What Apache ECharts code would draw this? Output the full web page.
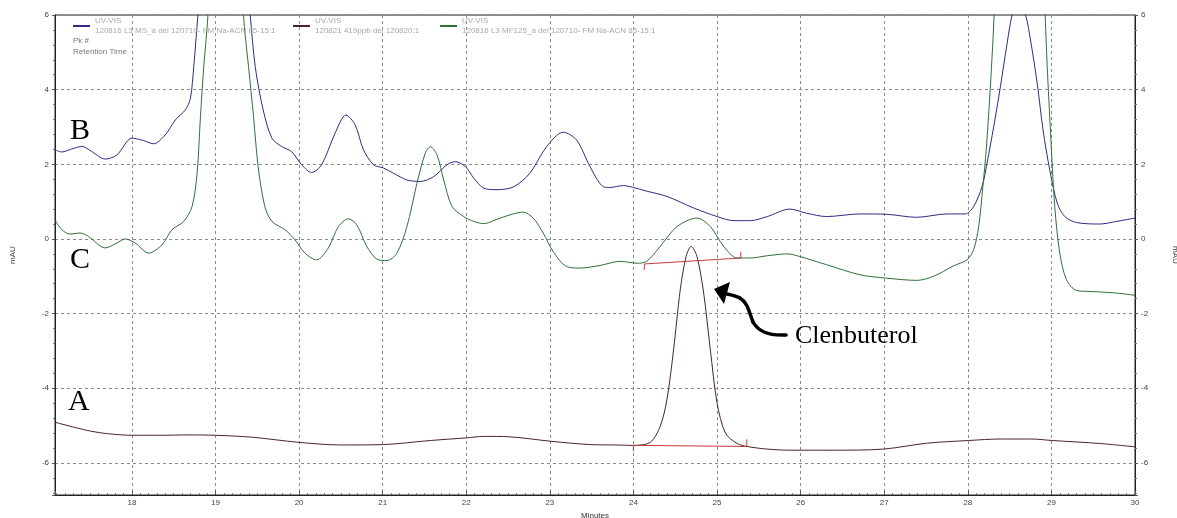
<!DOCTYPE html>
<html>
<head>
<meta charset="utf-8">
<script src="https://cdn.jsdelivr.net/npm/echarts@6/dist/echarts.min.js"></script>
<style>
html,body{margin:0;padding:0;background:#fff;}
#chart{width:1177px;height:518px;}
</style>
</head>
<body>
<div id="chart"></div>
<script>
// ---- Data (minutes, mAU) ----
const nameB = '120816 L3 MS_a del 120710- FM Na-ACN 85-15:1';
const nameA = '120821 419ppb del 120820:1';
const nameC = '120816 L3 MF125_a del 120710- FM Na-ACN 85-15:1';
const detector = 'UV-VIS';

const timeB = [17.08,17.16,17.28,17.40,17.52,17.68,17.82,18.00,18.12,18.26,18.40,18.52,18.64,18.70,18.74,18.79,
  18.88,18.98,19.10,19.22,19.33,19.415,19.475,19.57,19.675,19.79,19.91,20.03,20.15,20.27,20.43,20.56,20.67,
  20.77,20.89,21.01,21.13,21.29,21.45,21.61,21.77,21.87,21.99,22.09,22.21,22.37,22.57,22.76,22.96,23.16,23.32,
  23.48,23.64,23.72,23.88,24.00,24.16,24.40,24.72,25.00,25.20,25.40,25.60,25.87,26.07,26.31,26.71,27.03,27.39,
  27.75,27.97,28.07,28.17,28.23,28.31,28.39,28.47,28.53,28.60,28.69,28.75,28.83,28.90,28.98,29.07,29.16,29.30,
  29.58,29.78,30.00];
const valB = [2.39,2.33,2.41,2.48,2.34,2.14,2.25,2.70,2.65,2.55,2.79,3.19,3.46,3.77,4.62,6.00,
  8.2,11.0,12.3,11.0,8.0,6.00,4.62,3.46,2.70,2.48,2.34,1.99,1.78,1.99,2.83,3.32,3.06,
  2.39,1.99,1.90,1.76,1.58,1.54,1.67,1.99,2.07,1.94,1.63,1.36,1.32,1.40,1.76,2.47,2.86,2.65,
  1.94,1.40,1.38,1.43,1.38,1.28,1.14,0.83,0.60,0.49,0.49,0.60,0.80,0.69,0.60,0.67,0.66,0.58,
  0.67,0.67,0.87,1.40,2.03,3.01,4.08,5.24,6.00,6.35,6.00,5.33,4.17,2.92,1.85,0.96,0.60,0.44,
  0.40,0.47,0.56];

const timeC = [17.08,17.16,17.26,17.38,17.48,17.68,17.82,17.92,18.04,18.20,18.36,18.48,18.62,18.72,18.78,18.82,
  18.86,18.91,18.98,19.05,19.13,19.21,19.28,19.335,19.395,19.455,19.51,19.59,19.675,19.83,19.95,20.07,20.21,
  20.35,20.47,20.59,20.69,20.81,20.93,21.05,21.17,21.29,21.41,21.51,21.57,21.65,21.73,21.83,21.97,22.09,22.21,
  22.37,22.53,22.68,22.80,22.92,23.04,23.20,23.36,23.60,23.84,24.04,24.16,24.32,24.52,24.76,24.92,25.08,25.24,
  25.40,25.60,25.84,25.99,26.31,26.71,27.03,27.39,27.59,27.83,27.99,28.07,28.13,28.18,28.22,28.26,28.29,28.315,
  28.40,28.50,28.62,28.74,28.84,28.925,28.95,28.99,29.04,29.10,29.18,29.30,29.50,29.78,30.00];
const valC = [0.51,0.25,0.13,0.16,0.07,-0.24,-0.11,0.00,-0.11,-0.38,-0.16,0.25,0.47,0.87,1.76,3.28,
  4.62,6.00,9.5,12.5,13.5,12.5,9.5,6.00,4.62,3.28,1.94,0.87,0.47,0.25,-0.02,-0.38,-0.56,
  -0.24,0.33,0.54,0.38,-0.20,-0.54,-0.58,-0.38,0.33,1.49,2.30,2.47,2.25,1.58,0.87,0.60,0.47,0.41,
  0.53,0.65,0.72,0.56,0.16,-0.34,-0.74,-0.78,-0.71,-0.60,-0.65,-0.60,-0.20,0.33,0.56,0.33,-0.20,-0.51,
  -0.51,-0.45,-0.40,-0.47,-0.69,-0.96,-1.05,-1.11,-1.00,-0.72,-0.56,-0.29,0.33,1.40,2.39,3.72,4.88,6.00,
  10.5,13.5,14.5,13.5,10.5,6.00,4.62,2.83,0.87,-0.38,-1.09,-1.38,-1.41,-1.45,-1.51];

const timeA = [17.08,17.30,17.51,17.72,18.00,18.36,18.66,19.00,19.43,20.00,20.50,21.00,21.57,22.00,22.21,22.51,
  23.01,23.49,23.78,24.00,24.20,24.32,24.40,24.48,24.56,24.63,24.69,24.76,24.84,24.92,25.00,25.10,25.24,25.36,
  25.60,25.87,26.39,26.99,27.52,28.01,28.39,28.76,29.01,29.58,30.00];
const valA = [-4.91,-5.04,-5.15,-5.22,-5.26,-5.26,-5.25,-5.26,-5.31,-5.45,-5.52,-5.51,-5.40,-5.33,-5.29,-5.30,
  -5.42,-5.51,-5.52,-5.53,-5.45,-5.02,-4.31,-2.97,-1.36,-0.47,-0.20,-0.47,-1.45,-2.97,-4.39,-5.20,-5.48,-5.56,
  -5.63,-5.66,-5.66,-5.63,-5.47,-5.40,-5.36,-5.36,-5.40,-5.48,-5.57];

// peak integration baselines: [start, end] with tick ends
const baseA = { x: [24.00, 25.356], y: [-5.53, -5.56], tickY: [-5.69, -5.37] };
const baseC = { x: [24.13, 25.285], y: [-0.67, -0.51], tickY: [-0.83, -0.34] };

const yTicks = ['6','4','2','0','-2','-4','-6'];
const axisRange = { xMin: 17.08, xMax: 30, yMin: -6.86, yMax: 6 };

function pairs(xs, ys){ return xs.map((x,i)=>[x, ys[i]]); }

const colB = '#2c2c82', colC = '#2f7038', colA = '#4a2428', colRed = '#c83c3c';
const font = 'Liberation Sans, Arial, sans-serif';
const serif = 'Liberation Serif, Times New Roman, serif';

const chart = echarts.init(document.getElementById('chart'), null, {renderer:'canvas'});

const legendBase = {
  orient: 'horizontal', top: 16, padding: 0, itemWidth: 17, itemHeight: 2, icon: 'rect',
  formatter: n => detector + '\n' + n,
  textStyle: { fontSize: 8, lineHeight: 10, color: '#a8a8a8', fontFamily: font },
  selectedMode: false
};

function lineSeries(name, xs, ys, color){
  return { type: 'line', name: name, symbol: 'none', smooth: 0.3, clip: true, z: 3,
           data: pairs(xs, ys), itemStyle: { color: color }, lineStyle: { width: 1, color: color } };
}
function segSeries(name, pts){
  return { type: 'line', name: name, symbol: 'none', data: pts, z: 4, silent: true,
           itemStyle: { color: colRed }, lineStyle: { color: colRed, width: 1 } };
}

const option = {
  backgroundColor: '#ffffff',
  animation: false,
  grid: { left: 55, right: 42, top: 15, bottom: 23, show: true, borderColor: '#222', borderWidth: 1,
          containLabel: false, outerBoundsMode: 'none' },
  legend: [
    Object.assign({}, legendBase, { left: 73, data: [nameB] }),
    Object.assign({}, legendBase, { left: 293, data: [nameA] }),
    Object.assign({}, legendBase, { left: 440, data: [nameC] })
  ],
  xAxis: {
    type: 'value', min: axisRange.xMin, max: axisRange.xMax, splitNumber: 12,
    name: 'Minutes', nameLocation: 'middle', nameGap: 17,
    nameTextStyle: { fontSize: 8, color: '#333', fontFamily: font },
    axisLine: { show: true, onZero: false, lineStyle: { color: '#222', width: 1 } },
    axisTick: { show: true, inside: true, length: 4, lineStyle: { color: '#555' } },
    minorTick: { show: true, splitNumber: 10, length: 2, lineStyle: { color: '#777' } },
    axisLabel: { fontSize: 8, color: '#444', margin: 4, fontFamily: font, showMinLabel: false },
    splitLine: { show: true, lineStyle: { color: '#8a8a8a', type: [3,3], width: 1 } }
  },
  yAxis: [
    {
      type: 'value', min: axisRange.yMin, max: axisRange.yMax, splitNumber: 6, position: 'left',
      name: 'mAU', nameLocation: 'middle', nameRotate: 90, nameGap: 38,
      nameTextStyle: { fontSize: 8, color: '#444', fontFamily: font },
      axisLine: { show: true, onZero: false, lineStyle: { color: '#222' } },
      axisTick: { show: true, length: 3, lineStyle: { color: '#555' } },
      minorTick: { show: true, splitNumber: 5, length: 2, lineStyle: { color: '#777' } },
      axisLabel: { fontSize: 8, color: '#444', margin: 6, fontFamily: font, showMinLabel: false,
                   formatter: v => yTicks.includes(String(v)) ? String(v) : '' },
      splitLine: { show: true, lineStyle: { color: '#8a8a8a', type: [3,3], width: 1 } }
    },
    {
      type: 'value', min: axisRange.yMin, max: axisRange.yMax, splitNumber: 6, position: 'right',
      name: 'mAU', nameLocation: 'middle', nameRotate: -90, nameGap: 36,
      nameTextStyle: { fontSize: 8, color: '#444', fontFamily: font },
      axisLine: { show: true, onZero: false, lineStyle: { color: '#222' } },
      axisTick: { show: true, length: 3, lineStyle: { color: '#555' } },
      minorTick: { show: true, splitNumber: 5, length: 2, lineStyle: { color: '#777' } },
      axisLabel: { fontSize: 8, color: '#444', margin: 6, fontFamily: font, showMinLabel: false,
                   formatter: v => yTicks.includes(String(v)) ? String(v) : '' },
      splitLine: { show: false }
    }
  ],
  series: [
    lineSeries(nameB, timeB, valB, colB),
    lineSeries(nameA, timeA, valA, colA),
    lineSeries(nameC, timeC, valC, colC),
    segSeries('baseA', [[baseA.x[0], baseA.y[0]], [baseA.x[1], baseA.y[1]]]),
    segSeries('baseA-s', [[baseA.x[0], baseA.y[0]], [baseA.x[0], baseA.tickY[0]]]),
    segSeries('baseA-e', [[baseA.x[1], baseA.y[1]], [baseA.x[1], baseA.tickY[1]]]),
    segSeries('baseC', [[baseC.x[0], baseC.y[0]], [baseC.x[1], baseC.y[1]]]),
    segSeries('baseC-s', [[baseC.x[0], baseC.y[0]], [baseC.x[0], baseC.tickY[0]]]),
    segSeries('baseC-e', [[baseC.x[1], baseC.y[1]], [baseC.x[1], baseC.tickY[1]]])
  ],
  graphic: [
    { type: 'text', x: 73, y: 41, style: { text: 'Pk #', fontSize: 8, fill: '#7a7a7a', fontFamily: font, verticalAlign: 'middle' } },
    { type: 'text', x: 73, y: 52, style: { text: 'Retention Time', fontSize: 8, fill: '#7a7a7a', fontFamily: font, verticalAlign: 'middle' } },
    { type: 'text', x: 70, y: 131, style: { text: 'B', fontSize: 30, fill: '#000', fontFamily: serif, verticalAlign: 'middle' }, z: 10 },
    { type: 'text', x: 70, y: 260, style: { text: 'C', fontSize: 30, fill: '#000', fontFamily: serif, verticalAlign: 'middle' }, z: 10 },
    { type: 'text', x: 68, y: 402, style: { text: 'A', fontSize: 30, fill: '#000', fontFamily: serif, verticalAlign: 'middle' }, z: 10 },
    { type: 'text', x: 795, y: 336, style: { text: 'Clenbuterol', fontSize: 26, fill: '#000', fontFamily: serif, verticalAlign: 'middle' }, z: 10 },
    { type: 'bezierCurve', shape: { x1: 786, y1: 335, cpx1: 768, cpy1: 336, cpx2: 758, cpy2: 331, x2: 753, y2: 322 },
      style: { stroke: '#000', lineWidth: 3.5, fill: null, lineCap: 'round' }, z: 10 },
    { type: 'bezierCurve', shape: { x1: 753, y1: 322, cpx1: 749, cpy1: 312, cpx2: 748, cpy2: 303, x2: 740, y2: 298 },
      style: { stroke: '#000', lineWidth: 3.5, fill: null, lineCap: 'round' }, z: 10 },
    { type: 'bezierCurve', shape: { x1: 740, y1: 298, cpx1: 736, cpy1: 296, cpx2: 732, cpy2: 295, x2: 727, y2: 294 },
      style: { stroke: '#000', lineWidth: 3.5, fill: null, lineCap: 'round' }, z: 10 },
    { type: 'polygon', shape: { points: [[714, 289], [730, 282], [724, 304]] }, style: { fill: '#000' }, z: 10 }
  ]
};
chart.setOption(option);
</script>
</body>
</html>
